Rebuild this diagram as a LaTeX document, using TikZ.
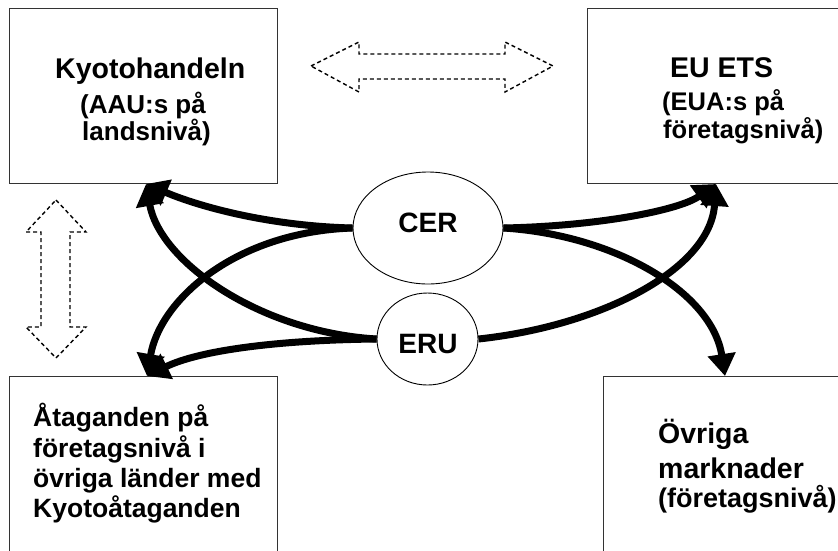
\documentclass[tikz,border=0pt]{standalone}
\usepackage{fontspec}
\setmainfont{Liberation Sans}
\usetikzlibrary{arrows.meta,shapes.geometric}
\tikzset{
  boxnode/.style={draw=black!80,line width=1pt,rectangle,inner sep=0pt,anchor=north west},
  txt/.style={anchor=base west,inner sep=0pt,font=\bfseries},
  ell/.style={draw,ellipse,line width=0.9pt,inner sep=0pt,fill=white},
  flow/.style={line width=7pt,-{Triangle[length=22pt,width=27pt]}},
  blockarrow/.style={draw,dashed,line width=1.4pt,dash pattern=on 4pt off 3pt}
}
\begin{document}
\begin{tikzpicture}[x=1pt,y=-1pt]
\useasboundingbox (0,0) rectangle (838,550);
% boxes
\node[boxnode,minimum width=268pt,minimum height=175pt] (kyoto) at (9,8) {};
\node[boxnode,minimum width=270pt,minimum height=175pt] (ets) at (587,8) {};
\node[boxnode,minimum width=268pt,minimum height=200pt] (atag) at (9,376) {};
\node[boxnode,minimum width=260pt,minimum height=200pt] (ovr) at (603,376) {};
% texts
\node[txt,font=\fontsize{28.5}{30}\selectfont\bfseries] (k1) at (55,78) {Kyotohandeln};
\node[txt,font=\fontsize{26}{28}\selectfont\bfseries] (k2) at (80,113) {(AAU:s på};
\node[txt,font=\fontsize{26}{28}\selectfont\bfseries] (k3) at (82,140) {landsnivå)};
\node[txt,font=\fontsize{28.5}{30}\selectfont\bfseries] (e1) at (670,77) {EU ETS};
\node[txt,font=\fontsize{25.5}{28}\selectfont\bfseries] (e2) at (662,110) {(EUA:s på};
\node[txt,font=\fontsize{25.5}{28}\selectfont\bfseries] (e3) at (663,138) {företagsnivå)};
\node[txt,font=\fontsize{26.5}{28}\selectfont\bfseries] (a1) at (33,426) {Åtaganden på};
\node[txt,font=\fontsize{26.5}{28}\selectfont\bfseries] (a2) at (33,457) {företagsnivå i};
\node[txt,font=\fontsize{26.5}{28}\selectfont\bfseries] (a3) at (33,487) {övriga länder med};
\node[txt,font=\fontsize{26.5}{28}\selectfont\bfseries] (a4) at (33,517) {Kyotoåtaganden};
\node[txt,font=\fontsize{28.5}{30}\selectfont\bfseries] (o1) at (658,443) {Övriga};
\node[txt,font=\fontsize{28.5}{30}\selectfont\bfseries] (o2) at (658,478) {marknader};
\node[txt,font=\fontsize{27}{28}\selectfont\bfseries] (o3) at (658,507) {(företagsnivå)};
% dashed block arrows
\draw[blockarrow] (311,66) -- (359,42) -- (359,54) -- (505,54) -- (505,42) -- (553,66)
  -- (505,92) -- (505,79) -- (359,79) -- (359,92) -- cycle;
\draw[blockarrow] (56,200) -- (86,232) -- (70,232) -- (70,327) -- (86,327) -- (56,358)
  -- (26,327) -- (41,327) -- (41,232) -- (26,232) -- cycle;
% ellipses
\node[ell,minimum width=150pt,minimum height=112pt] (cer) at (428,228) {};
\node[ell,minimum width=101pt,minimum height=92pt] (eru) at (427.5,339) {};
\node[font=\fontsize{28}{30}\selectfont\bfseries,anchor=base,inner sep=0pt] (cert) at (428,232) {CER};
\node[font=\fontsize{28}{30}\selectfont\bfseries,anchor=base,inner sep=0pt] (erut) at (428,353) {ERU};
% arrow targets
\coordinate (kt) at (146,184);
\coordinate (at) at (147,376);
\coordinate (et) at (716,184);
\coordinate (ot) at (725,376);
% flows
\draw[flow] (cer.west) .. controls (270,226) and (200,207) .. (kt);
\draw[flow] (cer.west) .. controls (235,232) and (160,300) .. (at);
\draw[flow] (eru.west) .. controls (260,332) and (160,262) .. (kt);
\draw[flow] (eru.west) .. controls (280,340) and (200,350) .. (at);
\draw[flow] (cer.east) .. controls (600,226) and (680,210) .. (et);
\draw[flow] (cer.east) .. controls (615,235) and (712,292) .. (ot);
\draw[flow] (eru.east) .. controls (600,326) and (710,270) .. (et);
\end{tikzpicture}
\end{document}
